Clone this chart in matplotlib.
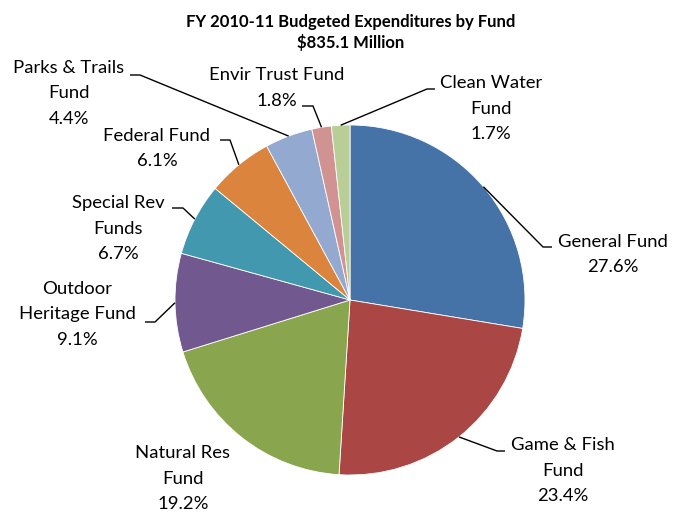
import matplotlib
matplotlib.use("Agg")
import matplotlib.pyplot as plt
import numpy as np

plt.rcParams['font.family'] = ['Lato', 'DejaVu Sans']

categories = ["General Fund", "Game & Fish Fund", "Natural Res Fund", "Outdoor Heritage Fund",
              "Special Rev Funds", "Federal Fund", "Parks & Trails Fund", "Envir Trust Fund",
              "Clean Water Fund"]
values = [27.6, 23.4, 19.2, 9.1, 6.7, 6.1, 4.4, 1.8, 1.7]
label_lines = [["General Fund"], ["Game & Fish", "Fund"], ["Natural Res", "Fund"],
               ["Outdoor", "Heritage Fund"], ["Special Rev", "Funds"], ["Federal Fund"],
               ["Parks & Trails", "Fund"], ["Envir Trust Fund"], ["Clean Water", "Fund"]]
colors = ["#4572A7", "#AA4643", "#89A54E", "#71588F", "#4198AF",
          "#DB843D", "#93A9CF", "#D19392", "#B9CD96"]
title_lines = ["FY 2010-11 Budgeted Expenditures by Fund", "$835.1 Million"]

W, H = 685, 512
fig = plt.figure(figsize=(W / 100, H / 100), dpi=100)
ax = fig.add_axes([0, 0, 1, 1])

cx, cy, R = 350, H - 300, 175
wedges, _ = ax.pie(values, colors=colors, startangle=90, counterclock=False,
                   center=(cx, cy), radius=R, frame=True,
                   wedgeprops=dict(edgecolor='white', linewidth=0.6))
ax.set_xlim(0, W)
ax.set_ylim(0, H)
ax.set_aspect('equal')
ax.axis('off')

# layout: text block center (x, first-line y in pixel coords), leader elbow and end (pixel coords)
layout = [
    dict(text=(613, 242), elbow=(543, 247), end=(552, 247)),
    dict(text=(563, 445), elbow=(497, 451), end=(505, 451)),
    dict(text=(183, 453), elbow=None, end=None),
    dict(text=(77, 289), elbow=(155, 322), end=(145, 322)),
    dict(text=(118, 203), elbow=(183, 208), end=(172, 208)),
    dict(text=(157, 136), elbow=(230, 140), end=(220, 140)),
    dict(text=(69, 68), elbow=(140, 75), end=(130, 75)),
    dict(text=(277, 75), elbow=(313, 106), end=(302, 106)),
    dict(text=(491, 83), elbow=(427, 89), end=(435, 89)),
]

fs = 13.3
line_h = 25.5
for w, val, lines, lay in zip(wedges, values, label_lines, layout):
    tx, ty = lay['text']
    all_lines = lines + [f"{val:.1f}%"]
    for i, ln in enumerate(all_lines):
        ax.text(tx, H - (ty + i * line_h), ln, ha='center', va='center', fontsize=fs, color='black')
    if lay['elbow'] is not None:
        ang = np.deg2rad((w.theta1 + w.theta2) / 2)
        sx, sy = cx + R * np.cos(ang), cy + R * np.sin(ang)
        ex, ey = lay['elbow']
        nx, ny = lay['end']
        ax.plot([sx, ex, nx], [sy, H - ey, H - ny], color='black', lw=1.0, solid_capstyle='butt')

for ln, base in zip(title_lines, [27, 48]):
    ax.text(351, H - base, ln, ha='center', va='baseline', fontsize=12, fontweight='bold')

fig.savefig("out.png", dpi=100)
